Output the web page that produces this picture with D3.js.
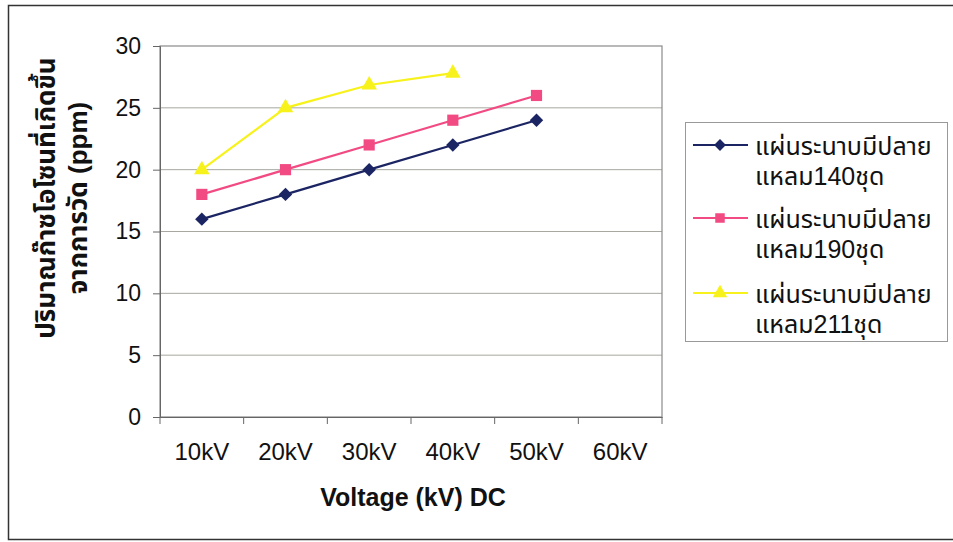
<!DOCTYPE html>
<html>
<head>
<meta charset="utf-8">
<script src="https://cdn.jsdelivr.net/npm/d3@7"></script>
<style>
html,body{margin:0;padding:0;background:#fff;}
svg{display:block;font-family:"Liberation Sans",Arial,"Noto Sans Thai","Noto Sans",sans-serif;}
</style>
</head>
<body>
<svg id="chart" width="953" height="542"></svg>
<script>
const categories = ["10kV","20kV","30kV","40kV","50kV","60kV"];
const series140 = [16, 18, 20, 22, 24];
const series190 = [18, 20, 22, 24, 26];
const series211 = [20, 25, 26.85, 27.8];
const seriesNames = ["แผ่นระนาบมีปลายแหลม140ชุด","แผ่นระนาบมีปลายแหลม190ชุด","แผ่นระนาบมีปลายแหลม211ชุด"];
const legendLine1 = ["แผ่นระนาบมีปลาย","แผ่นระนาบมีปลาย","แผ่นระนาบมีปลาย"];
const legendLine2 = ["แหลม140ชุด","แหลม190ชุด","แหลม211ชุด"];
const yTicks = [0,5,10,15,20,25,30];
const xTitle = "Voltage (kV) DC";
const yTitle1 = "ปริมาณก๊าซโอโซนที่เกิดขึ้น";
const yTitle2 = "จากการวัด (ppm)";

const colors = ["#1c2563","#f24a82","#f7f21c"];
const shapes = [d3.symbolSquare, d3.symbolSquare, d3.symbolTriangle];
const rotations = [45, 0, 0];
const symSizes = [90, 125, 105];
const legSizes = [70, 90, 90];

const svg = d3.select("#chart");
// outer frame
svg.append("rect").attr("x",8.5).attr("y",5.5).attr("width",960).attr("height",534)
  .attr("fill","none").attr("stroke","#333").attr("stroke-width",1.5);

const plot = {left:160, top:46, right:662, bottom:417};
const x = d3.scaleBand().domain(categories).range([plot.left, plot.right]);
const y = d3.scaleLinear().domain([0,30]).range([plot.bottom, plot.top]);

// gridlines
svg.append("g").selectAll("line").data(yTicks.filter(t=>t>0 && t<30)).join("line")
  .attr("x1",plot.left).attr("x2",plot.right)
  .attr("y1",d=>y(d)).attr("y2",d=>y(d))
  .attr("stroke","#a8a8a0").attr("stroke-width",1);

// plot border
svg.append("rect").attr("x",plot.left).attr("y",plot.top)
  .attr("width",plot.right-plot.left).attr("height",plot.bottom-plot.top)
  .attr("fill","none").attr("stroke","#8a8a8a").attr("stroke-width",1.2);

// y axis
const yAxis = d3.axisLeft(y).tickValues(yTicks).tickSize(7).tickPadding(12);
const gy = svg.append("g").attr("transform",`translate(${plot.left},0)`).call(yAxis);
gy.select(".domain").attr("stroke","#666");
gy.selectAll(".tick line").attr("stroke","#666");
gy.selectAll("text").attr("font-size",23).attr("fill","#111").attr("font-family","Liberation Sans, Arial, sans-serif");

// x axis
const xAxis = d3.axisBottom(x).tickSize(0).tickPadding(26);
const gx = svg.append("g").attr("transform",`translate(0,${plot.bottom})`).call(xAxis);
gx.select(".domain").attr("stroke","#666");
gx.selectAll("text").attr("font-size",24).attr("fill","#111").attr("font-family","Liberation Sans, Arial, sans-serif");
// tick marks at category boundaries
const bounds = categories.map(c=>x(c)).concat([plot.right]);
svg.append("g").selectAll("line").data(bounds).join("line")
  .attr("x1",d=>d).attr("x2",d=>d).attr("y1",plot.bottom).attr("y2",plot.bottom+7)
  .attr("stroke","#666");

// titles
svg.append("text").attr("x",413).attr("y",506).attr("text-anchor","middle")
  .attr("font-size",25).attr("font-weight","bold").attr("fill","#111").text(xTitle);
const yt = svg.append("text").attr("transform","translate(55,198) rotate(-90)")
  .attr("text-anchor","middle").attr("font-size",26).attr("font-weight","bold").attr("fill","#111");
yt.append("tspan").attr("x",0).attr("y",0).text(yTitle1);
yt.append("tspan").attr("x",0).attr("y",32).text(yTitle2);

// series
const allSeries = [series140, series190, series211];
const line = d3.line().x((d,i)=>x(categories[i])+x.bandwidth()/2).y(d=>y(d));
allSeries.forEach((s,k)=>{
  const g = svg.append("g");
  g.append("path").datum(s).attr("d",line).attr("fill","none")
    .attr("stroke",colors[k]).attr("stroke-width",2.2);
  g.selectAll("path.m").data(s).join("path").attr("class","m")
    .attr("transform",(d,i)=>`translate(${x(categories[i])+x.bandwidth()/2},${y(d)}) rotate(${rotations[k]})`)
    .attr("d",d3.symbol().type(shapes[k]).size(symSizes[k]))
    .attr("fill",colors[k]);
});

// legend
const lg = svg.append("g");
lg.append("rect").attr("x",685.5).attr("y",122.5).attr("width",262).attr("height",219)
  .attr("fill","#fff").attr("stroke","#999").attr("stroke-width",1);
const rowY = [145,218,293];
seriesNames.forEach((n,k)=>{
  const g = lg.append("g");
  g.append("line").attr("x1",693).attr("x2",748).attr("y1",rowY[k]).attr("y2",rowY[k])
    .attr("stroke",colors[k]).attr("stroke-width",2.2);
  g.append("path").attr("transform",`translate(720,${rowY[k]}) rotate(${rotations[k]})`)
    .attr("d",d3.symbol().type(shapes[k]).size(legSizes[k])).attr("fill",colors[k]);
  const t = g.append("text").attr("x",755).attr("y",rowY[k]+10).attr("font-size",25).attr("fill","#111");
  t.append("tspan").attr("x",755).attr("dy",0).text(legendLine1[k]);
  t.append("tspan").attr("x",755).attr("dy",30).text(legendLine2[k]);
});
</script>
</body>
</html>
